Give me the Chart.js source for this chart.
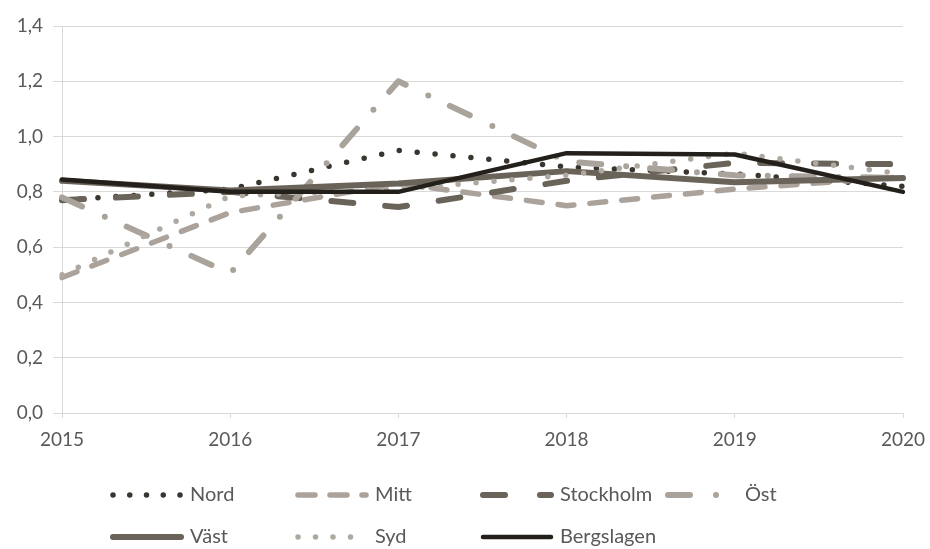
<!DOCTYPE html>
<html>
<head>
<meta charset="utf-8">
<script src="https://cdn.jsdelivr.net/npm/chart.js@4/dist/chart.umd.min.js"></script>
<style>
  html, body { margin: 0; padding: 0; background: #ffffff; }
  canvas { display: block; }
</style>
</head>
<body>
<canvas id="chartRegions" width="930" height="549"></canvas>
<script>
// Data
const years = ['2015', '2016', '2017', '2018', '2019', '2020'];
const nord = [0.77, 0.81, 0.95, 0.89, 0.865, 0.82];
const mitt = [0.49, 0.725, 0.83, 0.75, 0.81, 0.855];
const stockholm = [0.77, 0.80, 0.745, 0.84, 0.905, 0.90];
const ost = [0.78, 0.505, 1.20, 0.91, 0.86, 0.85];
const vast = [0.84, 0.805, 0.83, 0.875, 0.835, 0.85];
const syd = [0.50, 0.785, 0.81, 0.86, 0.94, 0.865];
const bergslagen = [0.845, 0.80, 0.80, 0.94, 0.935, 0.80];

const FONT = 'Lato, "Open Sans", sans-serif';
const TEXT = '#595959';
const GRID = '#d9d9d9';

function series(label, data, color, width, dash, legendDash, order) {
    return {
        label: label,
        data: data,
        borderColor: color,
        backgroundColor: color,
        borderWidth: width,
        borderDash: dash,
        legendDash: legendDash,
        borderCapStyle: 'round',
        borderJoinStyle: 'round',
        pointRadius: 0,
        pointHoverRadius: 0,
        tension: 0,
        fill: false,
        order: order
    };
}

const datasets = [
    series('Nord', nord, '#3b3530', 5.5, [0, 18], [0, 16.75], 7),
    series('Mitt', mitt, '#aba39b', 5.5, [16, 16], [17, 15], 6),
    series('Stockholm', stockholm, '#6a635a', 6, [22, 32], [22, 35], 5),
    series('Öst', ost, '#aaa39b', 6, [22, 25, 0, 24], [22, 26, 0, 24], 4),
    series('Väst', vast, '#6a635a', 6, [], [], 3),
    series('Syd', syd, '#afa8a1', 5.5, [0, 18], [0, 17.5], 2),
    series('Bergslagen', bergslagen, '#231f1b', 4.5, [], [], 1)
];

// Excel style legend: fixed columns, two rows
const legendPlugin = {
    id: 'gridLegend',
    afterDraw(chart) {
        const ctx = chart.ctx;
        chart.data.datasets.forEach(function(ds, i) {
            const col = i < 4 ? i : i - 4;
            const x0 = 113 + col * 185;
            const y = i < 4 ? 495 : 537;
            ctx.save();
            ctx.strokeStyle = ds.borderColor;
            ctx.lineWidth = ds.borderWidth;
            ctx.lineCap = 'round';
            ctx.setLineDash(ds.legendDash);
            ctx.beginPath();
            ctx.moveTo(x0, y);
            ctx.lineTo(x0 + 68, y);
            ctx.stroke();
            ctx.setLineDash([]);
            ctx.fillStyle = TEXT;
            ctx.font = '20px ' + FONT;
            ctx.textBaseline = 'middle';
            ctx.textAlign = 'left';
            ctx.fillText(ds.label, x0 + 77, y);
            ctx.restore();
        });
    }
};

new Chart(document.getElementById('chartRegions'), {
    type: 'line',
    data: { labels: years, datasets: datasets },
    plugins: [legendPlugin],
    options: {
        responsive: false,
        animation: false,
        devicePixelRatio: 1,
        layout: { padding: { left: 0, right: 27, top: 26, bottom: 96 } },
        plugins: {
            legend: { display: false },
            tooltip: { enabled: false }
        },
        scales: {
            x: {
                offset: false,
                grid: { drawOnChartArea: false, drawTicks: true, tickLength: 5, color: GRID },
                border: { display: true, color: GRID },
                ticks: { color: TEXT, font: { family: FONT, size: 19 }, padding: 10, maxRotation: 0 },
                afterFit: function(axis) {
                    axis.height = 40;
                    axis.paddingLeft = 0;
                    axis.paddingRight = 0;
                }
            },
            y: {
                min: 0,
                max: 1.4,
                ticks: {
                    stepSize: 0.2,
                    color: TEXT,
                    font: { family: FONT, size: 19 },
                    padding: 10,
                    callback: function(v) { return v.toFixed(1).replace('.', ','); }
                },
                grid: { color: GRID, tickLength: 9, drawTicks: true },
                border: { display: true, color: GRID },
                afterFit: function(axis) {
                    axis.width = 62;
                    axis.paddingTop = 0;
                    axis.paddingBottom = 0;
                }
            }
        }
    }
});
</script>
</body>
</html>
